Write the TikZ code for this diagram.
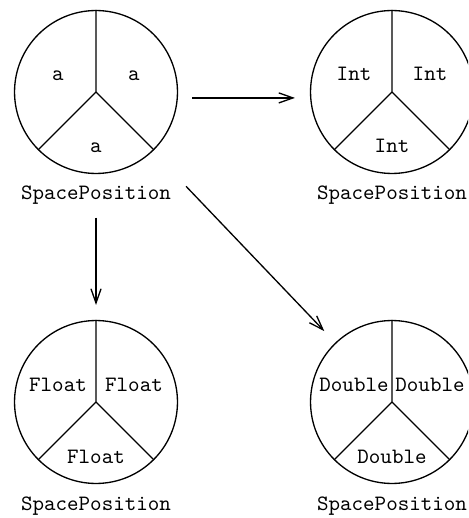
\documentclass[tikz,border=0pt]{standalone}
\usepackage{tikz}
\usetikzlibrary{arrows.meta}

\begin{document}
\begin{tikzpicture}[x=.456pt,y=-.456pt,font=\ttfamily,
    pie/.style={circle,draw,line width=.6pt,minimum size=74.3pt,inner sep=0pt},
    arr/.style={line width=.6pt,-{Straight Barb[length=6.5pt,width=4.6pt,line width=.6pt]}}]
    \clip (0,0) rectangle (468,518);
    % the four pies, three slices each
    \foreach \name/\x/\y/\t in {pa/96/92/a,pint/392/92/Int,pfloat/96/402/Float,pdouble/392/402/Double}
      {\node[pie] (\name) at (\x,\y) {};
       \draw[line width=.6pt] (\name.90)--(\name.center)--(\name.225);
       \draw[line width=.6pt] (\name.center)--(\name.315);
       \node[anchor=base] at (\x-38,\y-11) {\t};
       \node[anchor=base] at (\x+38,\y-11) {\t};
       \node[anchor=base] at (\x,\y+61) {\t};
       \node[anchor=base] (l\name) at (\x,\y+108) {SpacePosition};}
    \draw[arr,shorten <=6.4pt,shorten >=6.8pt] ([yshift=-2.7pt]pa.east)--([yshift=-2.7pt]pint.west);
    \draw[arr,shorten <=2.3pt,shorten >=6.8pt] (lpa.south)--(pfloat.north);
    \draw[arr,shorten <=22pt,shorten >=7.3pt] (pa)--(pdouble);
\end{tikzpicture}
\end{document}
